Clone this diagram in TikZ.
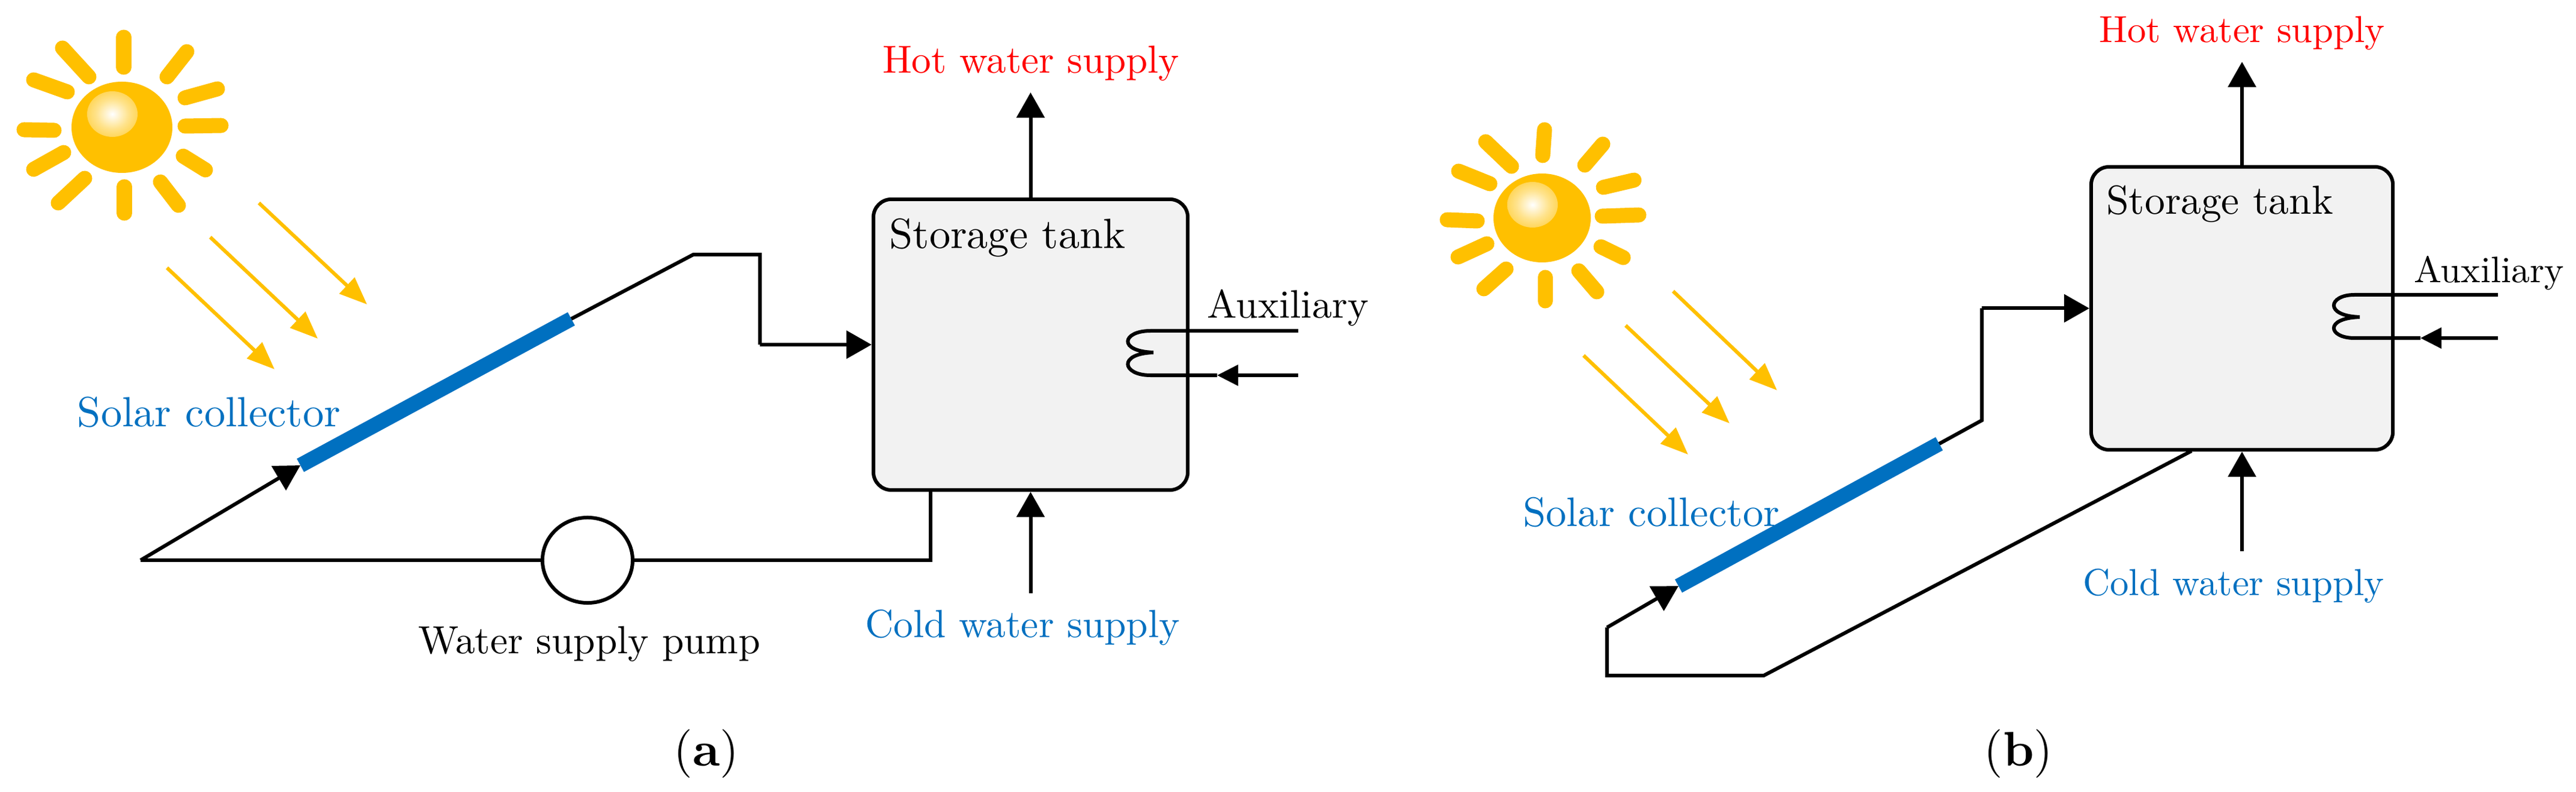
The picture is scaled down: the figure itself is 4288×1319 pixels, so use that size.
\documentclass[tikz,border=0pt]{standalone}
\usetikzlibrary{arrows.meta,shapes.geometric}
\definecolor{sunyellow}{HTML}{FFC000}
\definecolor{panelblue}{HTML}{0070C0}
\definecolor{tankgray}{HTML}{F2F2F2}
\pgfdeclareradialshading{sunglow}{\pgfpointorigin}{color(0bp)=(white); color(16bp)=(white!55!sunyellow); color(42bp)=(sunyellow); color(50bp)=(sunyellow)}
\tikzset{
    pipe/.style={line width=.06cm, line join=miter},
    tip/.style={-{Triangle[length=.42cm,width=.46cm]}},
    smalltip/.style={-{Triangle[length=.35cm,width=.34cm]}},
    ray/.style={sunyellow, line width=.25cm, line cap=round},
    beam/.style={sunyellow, line width=.06cm, -{Triangle[length=.46cm,width=.36cm]}},
    collector/.style={panelblue, line width=.25cm},
    tank/.style={draw=black, fill=tankgray, line width=.06cm, rounded corners=.3cm},
    lbl/.style={anchor=base, inner sep=0pt},
}
\begin{document}
\begin{tikzpicture}[x=0.01cm, y=-0.01cm]
    \useasboundingbox (0,0) rectangle (4288,1319);

    %sol (a)
    \foreach \xa/\ya/\xb/\yb in {206/62/206/112, 311/86/278/128, 362/148/308/163, 368/209/308/210,
        305/260/342/283, 267/303/297/342, 207/311/207/355, 141/297/97/338,
        106/254/56/282, 90/217/40/216, 112/153/56/133, 148/128/104/80}{
    \draw[ray] (\xa,\ya) -- (\xb,\yb);
    }
    \fill[sunyellow] (203,212) ellipse (84 and 76);
    \shade[shading=sunglow] (187,190) ellipse (42 and 38);

    %rayos (a)
    \draw[beam] (431,338) -- (611,507);
    \draw[beam] (350,395) -- (529,564);
    \draw[beam] (278,446) -- (457,615);

    %tanque (a)
    \node[tank, minimum width=5.23cm, minimum height=4.84cm] (tankA) at (1715.5,574) {};
    \node[draw=black, fill=white, line width=.06cm, ellipse, minimum width=1.5cm, minimum height=1.42cm, inner sep=0pt] (pumpA) at (978,933) {};

    \coordinate (startA) at (234,933);
    \coordinate (barlowA) at (500,775);
    \coordinate (barhighA) at (951,531);
    \coordinate (kneeA) at (1154,424);
    \coordinate (dropA) at (1265,424);
    \coordinate (inA) at (1265,574);
    \coordinate (backA) at (1549,933);
    \coordinate (hotA) at (1715.5,154);
    \coordinate (coldA) at (1715.5,988);

    \draw[pipe, tip] (startA) -- (barlowA);
    \draw[collector] (barlowA) -- (barhighA);
    \draw[pipe] (barhighA) -- (kneeA) -- (dropA) -- (inA);
    \draw[pipe, tip] (inA) -- (tankA.west);
    \draw[pipe] (startA) -- (pumpA.west);
    \draw[pipe] (pumpA.east) -- (backA) -- (backA |- tankA.south);
    \draw[pipe, tip] (tankA.north) -- (hotA);
    \draw[pipe, tip] (coldA) -- (tankA.south);

    %serpentin (a)
    \coordinate (coiloutA) at (2161,551);
    \coordinate (coilinA) at (2161,625);
    \coordinate (coilmidA) at (2026,625);
    \draw[pipe] (coiloutA) -- (1915,551) .. controls (1868,551) and (1860,585) .. (1920,587)
        .. controls (1860,589) and (1868,625) .. (1915,625) -- (coilmidA);
    \draw[pipe, smalltip] (coilinA) -- (coilmidA);

    \node[lbl, scale=2, panelblue] (solarA) at (348,710) {Solar collector};
    \node[lbl, scale=1.85, red] (hotlblA) at (1716,122) {Hot water supply};
    \node[lbl, scale=2] (storeA) at (1677,414) {Storage tank};
    \node[lbl, scale=1.88] (auxA) at (2144,530) {Auxiliary};
    \node[lbl, scale=1.86, panelblue] (coldlblA) at (1702,1061) {Cold water supply};
    \node[lbl, scale=1.86] (pumplblA) at (981,1088) {Water supply pump};
    \node[lbl, scale=2.3] (capA) at (1176,1275) {(\textbf{a})};

    %sol (b)
    \foreach \xa/\ya/\xb/\yb in {2571/216/2568/259, 2668/240/2638/275, 2720/300/2669/312, 2728/358/2667/360,
        2702/429/2665/411, 2658/486/2628/451, 2572/501/2572/462, 2470/481/2507/448,
        2427/428/2475/406, 2409/366/2459/368, 2428/285/2480/306, 2473/236/2516/277}{
    \draw[ray] (\xa,\ya) -- (\xb,\yb);
    }
    \fill[sunyellow] (2567,363) ellipse (81 and 74);
    \shade[shading=sunglow] (2551,341) ellipse (42 and 38);

    %rayos (b)
    \draw[beam] (2785,485) -- (2958,650);
    \draw[beam] (2706,542) -- (2879,705);
    \draw[beam] (2636,592) -- (2810,757);

    %tanque (b)
    \node[tank, minimum width=5.02cm, minimum height=4.71cm] (tankB) at (3732,513.5) {};

    \coordinate (cornerB) at (2675,1045);
    \coordinate (barlowB) at (2794,976);
    \coordinate (barhighB) at (3228,739);
    \coordinate (kneeB) at (3299,700);
    \coordinate (riseB) at (3299,513.5);
    \coordinate (footB) at (2675,1125);
    \coordinate (footrightB) at (2936,1125);
    \coordinate (backB) at (3648,751);
    \coordinate (hotB) at (3732,103);
    \coordinate (coldB) at (3732,918);

    \draw[pipe, tip] (cornerB) -- (barlowB);
    \draw[collector] (barlowB) -- (barhighB);
    \draw[pipe] (barhighB) -- (kneeB) -- (riseB);
    \draw[pipe, tip] (riseB) -- (tankB.west);
    \draw[pipe] (cornerB) -- (footB) -- (footrightB) -- (backB);
    \draw[pipe, tip] (tankB.north) -- (hotB);
    \draw[pipe, tip] (coldB) -- (tankB.south);

    %serpentin (b)
    \coordinate (coiloutB) at (4158,491);
    \coordinate (coilinB) at (4158,563);
    \coordinate (coilmidB) at (4029,563);
    \draw[pipe] (coiloutB) -- (3919,491) .. controls (3876,491) and (3868,526) .. (3928,528)
        .. controls (3868,530) and (3876,563) .. (3919,563) -- (coilmidB);
    \draw[pipe, smalltip] (coilinB) -- (coilmidB);

    \node[lbl, scale=1.95, panelblue] (solarB) at (2749,876) {Solar collector};
    \node[lbl, scale=1.78, red] (hotlblB) at (3732,71) {Hot water supply};
    \node[lbl, scale=1.92] (storeB) at (3695,357) {Storage tank};
    \node[lbl, scale=1.75] (auxB) at (4143,471) {Auxiliary};
    \node[lbl, scale=1.78, panelblue] (coldlblB) at (3718,991) {Cold water supply};
    \node[lbl, scale=2.3] (capB) at (3360,1275) {(\textbf{b})};

\end{tikzpicture}
\end{document}
